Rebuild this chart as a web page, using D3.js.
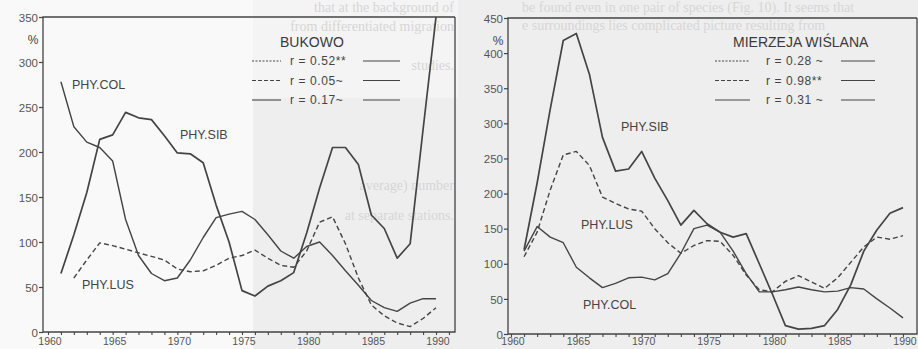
<!DOCTYPE html>
<html>
<head>
<meta charset="utf-8">
<script src="https://cdn.jsdelivr.net/npm/d3@7"></script>
<style>
    body { margin: 0; background: #f3f3f3; }
    svg { display: block; }
    text { font-family: "Liberation Sans", Arial, sans-serif; fill: #444; }
    text.ghost { font-family: "Liberation Serif", "DejaVu Serif", serif; font-size: 14px; fill: #d6d6d6; }
</style>
</head>
<body>
<div id="chart"></div>
<script>
// years on the x axis
let years = [1961, 1962, 1963, 1964, 1965, 1966, 1967, 1968, 1969, 1970,
    1971, 1972, 1973, 1974, 1975, 1976, 1977, 1978, 1979, 1980,
    1981, 1982, 1983, 1984, 1985, 1986, 1987, 1988, 1989, 1990];
let yearTicks = [1960, 1965, 1970, 1975, 1980, 1985, 1990];

// Bukowo
let bukowoSib = [65, 108, 155, 214, 219, 244, 238, 236, 218, 199, 198, 188, 141, 100, 46,
    40, 51, 57, 66, 110, 160, 205, 205, 186, 130, 115, 82, 98, 225, 350];
let bukowoCol = [278, 228, 211, 205, 190, 125, 85, 65, 57, 60, 80, 105, 127, 131, 134,
    125, 108, 90, 82, 95, 100, 85, 68, 52, 35, 27, 23, 32, 37, 37];
// PHY.LUS starts in 1962
let bukowoLus = [null, 60, 80, 99, 96, 92, 88, 84, 80, 70, 67, 68, 74, 82, 85,
    91, 82, 74, 72, 90, 122, 128, 98, 60, 30, 18, 10, 6, 15, 27];
let bukowoTicks = [0, 50, 100, 150, 200, 250, 300, 350];
let bukowoLegend = ['r = 0.52**', 'r = 0.05~', 'r = 0.17~'];

// Mierzeja Wiślana
let mierzejaSib = [120, 215, 320, 418, 428, 370, 280, 232, 235, 260, 222, 190, 155, 176, 157,
    145, 138, 143, 100, 57, 12, 7, 8, 12, 35, 70, 118, 148, 172, 180];
let mierzejaLus = [110, 145, 205, 255, 260, 240, 195, 186, 178, 175, 150, 130, 115, 126, 133,
    132, 112, 84, 63, 60, 75, 83, 74, 65, 80, 102, 124, 138, 135, 140];
let mierzejaCol = [118, 153, 138, 130, 95, 80, 66, 72, 80, 81, 77, 86, 115, 150, 155,
    145, 118, 86, 60, 60, 63, 67, 63, 60, 61, 66, 64, 50, 37, 23];
let mierzejaTicks = [0, 50, 100, 150, 200, 250, 300, 350, 400, 450];
let mierzejaLegend = ['r = 0.28 ~', 'r = 0.98**', 'r = 0.31 ~'];

let width = 918, height = 349;
let ink = '#444';

let svg = d3.select('#chart').append('svg')
    .attr('width', width)
    .attr('height', height);

//纸张底色
svg.append('rect').attr('width', width).attr('height', height).attr('fill', '#eeeeee');
svg.append('rect').attr('x', 0).attr('y', 0).attr('width', 253).attr('height', height).attr('fill', '#f9f9f9');
svg.append('rect').attr('x', 253).attr('y', 0).attr('width', 205).attr('height', 98).attr('fill', '#f4f4f4');

//透印的背面文字
let ghostText = [
    {x: 454, y: 12, anchor: 'end', t: 'that at the background of'},
    {x: 454, y: 31, anchor: 'end', t: 'from differentiated migration'},
    {x: 454, y: 70, anchor: 'end', t: 'studies.'},
    {x: 454, y: 190, anchor: 'end', t: 'average) number'},
    {x: 454, y: 220, anchor: 'end', t: 'at separate stations.'},
    {x: 522, y: 12, anchor: 'start', t: 'be found even in one pair of species (Fig. 10). It seems that'},
    {x: 522, y: 30, anchor: 'start', t: 'e surroundings lies complicated picture resulting from'}
];
svg.append('g')
    .selectAll('text')
    .data(ghostText)
    .enter()
    .append('text')
    .attr('class', 'ghost')
    .attr('x', d => d.x)
    .attr('y', d => d.y)
    .attr('text-anchor', d => d.anchor)
    .text(d => d.t);

let drawPanel = function (cfg) {
    let x = d3.scaleLinear().domain([1960, 1990]).range(cfg.xRange);
    let y = d3.scaleLinear().domain([0, cfg.ticks[cfg.ticks.length - 1]]).range([cfg.bottom, cfg.top]);
    let g = svg.append('g');

    let clipId = 'clip' + cfg.id;
    svg.append('clipPath').attr('id', clipId)
        .append('rect')
        .attr('x', cfg.left).attr('y', cfg.top)
        .attr('width', cfg.right - cfg.left).attr('height', cfg.bottom - cfg.top);

    //框
    g.append('path')
        .attr('d', `M${cfg.right},${cfg.top}H${cfg.left}V${cfg.bottom}H${cfg.right}V${cfg.top}`)
        .attr('fill', 'none')
        .attr('stroke', ink)
        .attr('stroke-width', 1.3);

    //y轴刻度
    let yAxis = d3.axisLeft(y).tickValues(cfg.ticks).tickSize(4).tickPadding(1);
    let ya = g.append('g').attr('transform', `translate(${cfg.left},0)`).call(yAxis);
    ya.select('.domain').remove();
    ya.selectAll('line').attr('stroke', ink).attr('stroke-width', 1.2);
    ya.selectAll('text').style('font-size', '11.5px').style('fill', '#555').attr('dy', '0.36em');

    //x轴刻度，每年一个
    let xAxis = d3.axisBottom(x).tickValues(cfg.minor).tickSize(3).tickFormat('');
    let xa = g.append('g').attr('transform', `translate(0,${cfg.bottom})`).call(xAxis);
    xa.select('.domain').remove();
    xa.selectAll('line').attr('stroke', ink).attr('stroke-width', 1.1);
    g.selectAll('text.yearLabel')
        .data(yearTicks)
        .enter()
        .append('text')
        .attr('class', 'yearLabel')
        .attr('x', d => x(d) + 2)
        .attr('y', 345)
        .attr('text-anchor', 'middle')
        .style('font-size', '10.5px')
        .style('fill', '#555')
        .text(d => d);

    g.append('text')
        .attr('x', cfg.left - 10).attr('y', cfg.top + 27)
        .attr('text-anchor', 'middle')
        .style('font-size', '12px')
        .text('%');

    //折线
    let line = d3.line()
        .defined(d => d[1] !== null)
        .x(d => x(d[0]))
        .y(d => y(d[1]));
    let lg = g.append('g').attr('clip-path', `url(#${clipId})`);
    lg.selectAll('path')
        .data(cfg.series)
        .enter()
        .append('path')
        .attr('d', d => line(years.map((yr, i) => [yr, d.values[i]])))
        .attr('fill', 'none')
        .attr('stroke', ink)
        .attr('stroke-width', d => d.w)
        .attr('stroke-dasharray', d => d.dash)
        .attr('stroke-linejoin', 'round');

    //曲线名称
    g.selectAll('text.seriesName')
        .data(cfg.series)
        .enter()
        .append('text')
        .attr('class', 'seriesName')
        .attr('x', d => d.lx)
        .attr('y', d => d.ly)
        .style('font-size', '12.5px')
        .text(d => d.name);

    //图例
    g.append('text')
        .attr('x', cfg.legend.titleX).attr('y', 47)
        .style('font-size', '14px')
        .style('fill', '#3a3a3a')
        .text(cfg.title);
    let dashes = ['2,1.5', '4,2', null];
    let rows = g.selectAll('g.legendRow')
        .data(cfg.legendText)
        .enter()
        .append('g')
        .attr('class', 'legendRow')
        .attr('transform', (d, i) => `translate(0,${61 + i * 19.5})`);
    rows.append('line')
        .attr('x1', cfg.legend.a1).attr('x2', cfg.legend.a2)
        .attr('stroke', ink).attr('stroke-width', 1.1)
        .attr('stroke-dasharray', (d, i) => dashes[i]);
    rows.append('text')
        .attr('x', cfg.legend.tx).attr('y', 4)
        .style('font-size', '12px')
        .style('letter-spacing', '0.6px')
        .text(d => d);
    rows.append('line')
        .attr('x1', cfg.legend.b1).attr('x2', cfg.legend.b2)
        .attr('stroke', ink).attr('stroke-width', 1.1);
};

drawPanel({
    id: 'L', left: 43, right: 455, top: 17, bottom: 332,
    xRange: [48, 436], ticks: bukowoTicks,
    minor: [1960, 1961, 1962, 1963, 1964, 1965, 1966, 1967, 1968, 1969, 1970, 1971, 1972, 1973, 1974, 1975,
        1976, 1977, 1978, 1979, 1980, 1981, 1982, 1983, 1984, 1985, 1986, 1987, 1988, 1989, 1990, 1991],
    title: 'BUKOWO', legendText: bukowoLegend,
    legend: {titleX: 280, a1: 252, a2: 281, tx: 290, b1: 363, b2: 400},
    series: [
        {name: 'PHY.SIB', values: bukowoSib, w: 1.7, dash: null, lx: 180, ly: 139},
        {name: 'PHY.COL', values: bukowoCol, w: 1.4, dash: null, lx: 72, ly: 89},
        {name: 'PHY.LUS', values: bukowoLus, w: 1.4, dash: '5,3', lx: 82, ly: 289}
    ]
});

drawPanel({
    id: 'R', left: 508, right: 917, top: 18, bottom: 334,
    xRange: [511, 903], ticks: mierzejaTicks,
    minor: [1960, 1961, 1962, 1963, 1964, 1965, 1966, 1967, 1968, 1969, 1970, 1971, 1972, 1973, 1974, 1975,
        1976, 1977, 1978, 1979, 1980, 1981, 1982, 1983, 1984, 1985, 1986, 1987, 1988, 1989, 1990],
    title: 'MIERZEJA WIŚLANA', legendText: mierzejaLegend,
    legend: {titleX: 733, a1: 715, a2: 750, tx: 766, b1: 841, b2: 875},
    series: [
        {name: 'PHY.SIB', values: mierzejaSib, w: 1.7, dash: null, lx: 621, ly: 131},
        {name: 'PHY.LUS', values: mierzejaLus, w: 1.4, dash: '5,3', lx: 581, ly: 229},
        {name: 'PHY.COL', values: mierzejaCol, w: 1.4, dash: null, lx: 583, ly: 309}
    ]
});
</script>
</body>
</html>
